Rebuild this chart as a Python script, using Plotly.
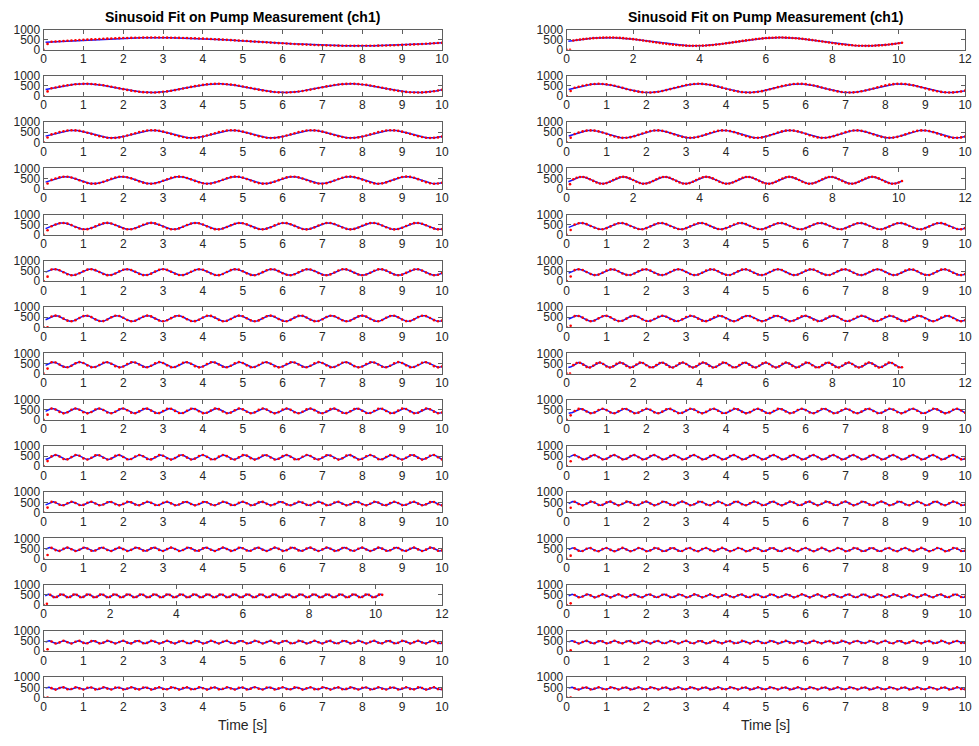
import numpy as np
import plotly.graph_objects as go
from plotly.subplots import make_subplots

W, H = 979, 746
TITLE = "Sinusoid Fit on Pump Measurement (ch1)"
XLABEL = "Time [s]"
Y_TICKS = [0, 500, 1000]

# ---- fitted sinusoid parameters per subplot (row 1..15) ----
left_freq = [0.098, 0.3, 0.5, 0.7, 0.9, 1.1, 1.3, 1.5, 1.7, 1.9, 2.1, 2.3, 2.5, 2.7, 2.9]
left_amp = [205, 215, 190, 175, 160, 150, 140, 130, 120, 115, 90, 85, 80, 70, 60]
left_offset = [400, 390, 405, 415, 430, 440, 440, 440, 445, 440, 440, 465, 450, 450, 450]
left_phase = [-0.15, -0.4, -0.7, -0.8, -1.14, -0.3, -0.88, -0.7, -0.7, -2.0, -1.46, -0.7, -0.7, -0.7, -0.7]
left_start = [290, 230, 240, 250, 230, 220, 0, 250, 260, 250, 240, 180, 60, 100, 0]
left_tend = [10, 10, 10, 10, 10, 10, 10, 10, 10, 10, 10, 10, 10.2, 10, 10]
left_xmax = [10, 10, 10, 10, 10, 10, 10, 10, 10, 10, 10, 10, 12, 10, 10]

right_freq = [0.193, 0.397, 0.6, 0.8, 1.0, 1.2, 1.4, 1.6, 1.8, 2.0, 2.2, 2.4, 2.6, 2.8, 3.0]
right_amp = [205, 215, 185, 170, 155, 145, 135, 125, 115, 110, 95, 85, 75, 65, 60]
right_offset = [400, 390, 405, 410, 430, 440, 440, 425, 440, 440, 445, 450, 450, 450, 450]
right_phase = [0.05, -0.42, -0.7, -0.7, -0.7, -0.7, -0.7, -2.05, -2.28, -0.7, -0.7, -0.7, -0.7, -0.7, -0.7]
right_start = [0, 250, 230, 220, 240, 230, 80, 0, 226, 240, 230, 150, 80, 50, 0]
right_tend = [10.1, 10, 10, 10.1, 10, 10, 10, 10.1, 10, 10, 10, 10, 10, 10, 10]
right_xmax = [12, 10, 10, 12, 10, 10, 10, 12, 10, 10, 10, 10, 10, 10, 10]

NROWS = 15
columns = [
    (left_freq, left_amp, left_offset, left_phase, left_start, left_tend, left_xmax),
    (right_freq, right_amp, right_offset, right_phase, right_start, right_tend, right_xmax),
]

# layout geometry (pixels)
COL_X = [(41.0, 443.5), (569.5, 972.0)]
ROW_TOP0, ROW_PITCH, ROW_H = 23.0, 47.15, 20.6

fig = make_subplots(rows=NROWS, cols=2)

FONT = "Liberation Sans, Arial, Helvetica, sans-serif"
AXC = "#262626"
LINEC = "#5f5f5f"

for c, (fr, am, of, ph, st, te, xm) in enumerate(columns):
    for r in range(NROWS):
        f, A, off, p = fr[r], am[r], of[r], ph[r]
        t_fit = np.arange(0.05, te[r] + 1e-9, 0.01)
        y_fit = off + A * np.sin(2 * np.pi * f * t_fit + p)
        t_meas = np.round(np.arange(0, te[r] + 1e-9, 0.1), 2)
        y_meas = off + A * np.sin(2 * np.pi * f * t_meas + p)
        y_meas[0] = 0
        y_meas[1] = st[r]
        fig.add_trace(go.Scatter(x=t_fit, y=y_fit, mode="lines",
                                 line=dict(color="rgb(20,20,255)", width=1.5),
                                 showlegend=False, hoverinfo="skip"),
                      row=r + 1, col=c + 1)
        fig.add_trace(go.Scatter(x=t_meas, y=y_meas, mode="markers",
                                 marker=dict(color="rgb(255,0,0)", size=2.6),
                                 showlegend=False),
                      row=r + 1, col=c + 1)
        k = r * 2 + c + 1
        xa = "xaxis" if k == 1 else f"xaxis{k}"
        ya = "yaxis" if k == 1 else f"yaxis{k}"
        x0, x1 = COL_X[c]
        top = ROW_TOP0 + ROW_PITCH * r
        bot = top + ROW_H
        step = 2 if xm[r] == 12 else 1
        common = dict(showgrid=False, zeroline=False, showline=True, mirror="ticks",
                      ticks="inside", ticklen=4, tickwidth=1, tickcolor=LINEC,
                      linecolor=LINEC, linewidth=1,
                      tickfont=dict(family=FONT, size=12, color=AXC))
        fig.update_layout({
            xa: dict(domain=[x0 / W, x1 / W], range=[0, xm[r]], ticklabelstandoff=-2,
                     tickvals=list(range(0, xm[r] + 1, step)), **common),
            ya: dict(domain=[1 - bot / H, 1 - top / H], range=[0, 1000],
                     tickvals=Y_TICKS, **common),
        })

annotations = []
for c in range(2):
    x0, x1 = COL_X[c]
    xc = (x0 + x1) / 2 / W
    annotations.append(dict(text="<b>" + TITLE + "</b>", x=xc, y=1 - 10 / H,
                            xref="paper", yref="paper", xanchor="center", yanchor="middle",
                            showarrow=False, font=dict(family=FONT, size=14, color="black")))
    annotations.append(dict(text=XLABEL, x=xc, y=1 - 732 / H,
                            xref="paper", yref="paper", xanchor="center", yanchor="middle",
                            showarrow=False, font=dict(family=FONT, size=14, color=AXC)))

fig.update_layout(width=W, height=H, margin=dict(l=0, r=0, t=0, b=0),
                  paper_bgcolor="white", plot_bgcolor="white",
                  annotations=annotations, showlegend=False)

fig.write_html("out.html")
